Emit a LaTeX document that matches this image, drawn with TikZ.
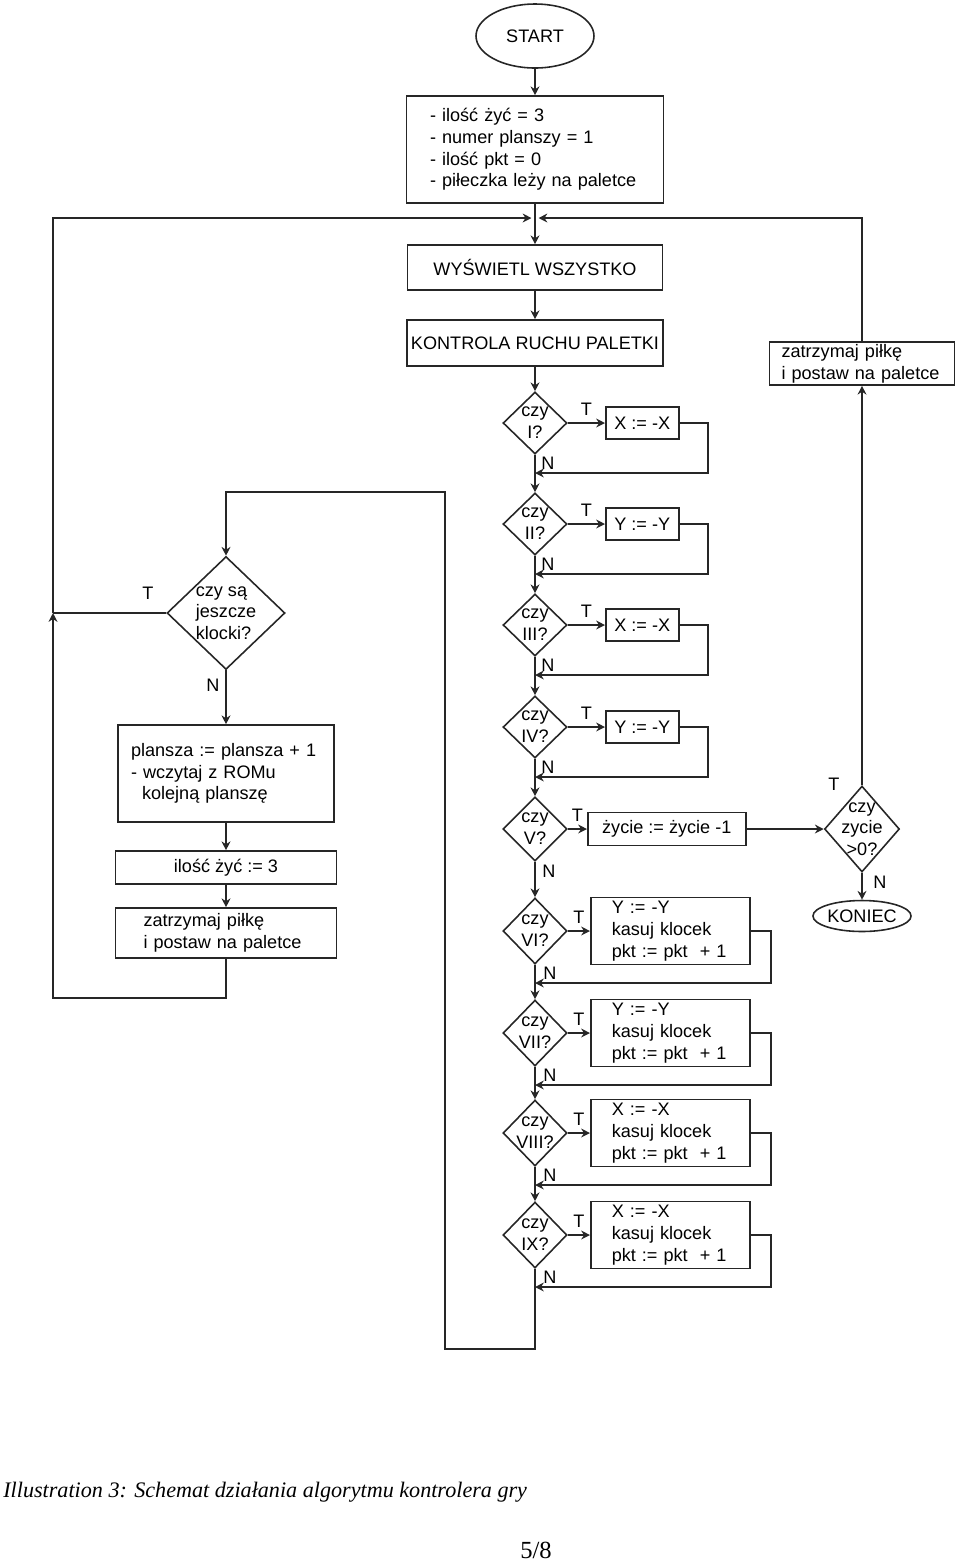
\documentclass[tikz,border=0pt]{standalone}
\usepackage{fontspec}
\setmainfont{Liberation Sans}
\newfontfamily\capfont{Liberation Serif}
\usetikzlibrary{arrows.meta,positioning,shapes.geometric}
\definecolor{lc}{HTML}{262626}
\newcommand{\fs}{\fontsize{10.3}{12.4}\selectfont}
\tikzset{
  box/.style={draw=lc,line width=0.9pt,inner sep=0pt,font=\fs,align=center},
  dia/.style={draw=lc,line width=0.9pt,diamond,inner sep=0pt,minimum width=1.28cm,minimum height=1.28cm},
  oval/.style={draw=lc,line width=0.9pt,ellipse,inner sep=0pt,font=\fs},
  lbl/.style={font=\fs,align=center,inner sep=0pt},
  tn/.style={font=\fs,inner sep=0pt},
  wire/.style={line width=0.9pt,draw=lc},
  ar/.style={-{Stealth[length=5pt,width=5pt]},line width=0.9pt,draw=lc},
}

\begin{document}
\begin{tikzpicture}[x=0.02cm,y=-0.02cm]
  \useasboundingbox (0,0) rectangle (960,1563);
  % main column
  \node[oval,minimum width=2.36cm,minimum height=1.28cm] (start) at (535,36) {START};
  \node[box,minimum width=5.14cm,minimum height=2.14cm,text width=4.2cm,align=left] (init) at (535,149.5) {- ilość żyć = 3\\- numer planszy = 1\\- ilość pkt = 0\\- piłeczka leży na paletce};
  \node[box,minimum width=5.1cm,minimum height=0.9cm] (wys) at (535,267.5) {WYŚWIETL WSZYSTKO};
  \node[box,minimum width=5.12cm,minimum height=0.92cm] (kon) at (535,343) {KONTROLA RUCHU PALETKI};
  \coordinate (mj) at (535,218);
  \draw[ar] (start) -- (init);
  \draw[ar] (init) -- (wys);
  \draw[ar] (wys) -- (kon);

  \foreach \i/\y/\q/\t in {1/423/I/{X := -X},2/524/II/{Y := -Y},3/625/III/{X := -X},4/727/IV/{Y := -Y}} {
    \node[dia,minimum height=1.24cm,label={[lbl]center:{czy\\\q?}}] (d\i) at (535,\y) {};
    \node[box,minimum width=1.46cm,minimum height=0.64cm,anchor=west] (b\i) at (605,\y) {\t};
    \coordinate (r\i) at (708,{\y+50});
    \draw[ar] (d\i) -- node[tn,above=4pt]{T} (b\i);
    \draw[ar] (b\i.east) -| (r\i) -- (r\i -| d\i);
    \node[tn,anchor=north west] (n\i) at ([xshift=0.12cm,yshift=-0.04cm]d\i.south) {N};
  }
  \node[dia,label={[lbl]center:{czy\\V?}}] (d5) at (535,829) {};
  \node[box,minimum width=3.16cm,minimum height=0.66cm,anchor=west] (b5) at (587,829) {życie := życie -1};
  \draw[ar] (d5) -- node[tn,above=4pt]{T} (b5);
  \node[tn,anchor=north west] (n5) at ([xshift=0.14cm,yshift=-0.06cm]d5.south) {N};

  \foreach \i/\y/\q/\t in {6/931/VI/{Y := -Y},7/1033/VII/{Y := -Y},8/1133/VIII/{X := -X},9/1235/IX/{X := -X}} {
    \node[dia,minimum height=1.32cm,label={[lbl]center:{czy\\\q?}}] (d\i) at (535,\y) {};
    \node[box,minimum width=3.18cm,minimum height=1.34cm,text width=2.34cm,align=left,anchor=west] (b\i) at (590,\y) {\t\\kasuj klocek\\pkt := pkt\ \ + 1};
    \coordinate (r\i) at (771,{\y+52});
    \draw[ar] (d\i) -- node[tn,above=4pt]{T} (b\i);
    \draw[ar] (b\i.east) -| (r\i) -- (r\i -| d\i);
    \node[tn,anchor=north west] (n\i) at ([xshift=0.16cm,yshift=-0.04cm]d\i.south) {N};
  }
  \draw[ar] (kon) -- (d1);
  \draw[ar] (d1) -- (d2);
  \draw[ar] (d2) -- (d3);
  \draw[ar] (d3) -- (d4);
  \draw[ar] (d4) -- (d5);
  \draw[ar] (d5) -- (d6);
  \draw[ar] (d6) -- (d7);
  \draw[ar] (d7) -- (d8);
  \draw[ar] (d8) -- (d9);

  % right branch
  \node[dia,minimum width=1.5cm,minimum height=1.72cm,label={[lbl]center:{czy\\zycie\\>0?}}] (zyc) at (862,829) {};
  \node[oval,minimum width=1.64cm,minimum height=0.62cm] (koniec) at (862,916) {KONIEC};
  \node[box,minimum width=3.7cm,minimum height=0.86cm,text width=3.22cm,align=left] (zat2) at (862,363.5) {zatrzymaj piłkę\\i postaw na paletce};
  \node[tn] (tz) at (834,784) {T};
  \node[tn] (nz) at (880,882) {N};
  \draw[ar] (b5) -- (zyc);
  \draw[ar] (zyc) -- (koniec);
  \draw[ar] (zyc) -- (zat2);
  \draw[ar,shorten >=2pt] (zat2.north) |- (mj);

  % left branch
  \node[dia,minimum width=2.36cm,minimum height=2.26cm,label={[lbl,align=left]center:{czy są\\jeszcze\\klocki?}}] (kl) at (226,613) {};
  \node[box,minimum width=4.32cm,minimum height=1.94cm,text width=3.8cm,align=left] (pl) at (226,773.5) {plansza := plansza + 1\\- wczytaj z ROMu\\\hspace*{0.22cm}kolejną planszę};
  \node[box,minimum width=4.42cm,minimum height=0.66cm] (il) at (226,867.5) {ilość żyć := 3};
  \node[box,minimum width=4.42cm,minimum height=1.0cm,text width=3.3cm,align=left] (zat1) at (226,933) {zatrzymaj piłkę\\i postaw na paletce};
  \node[tn] (tk) at (148,593) {T};
  \node[tn] (nk) at (213,685) {N};
  \coordinate (lj) at (53,613);
  \coordinate (lb) at (226,998);
  \coordinate (tb) at (535,1349);
  \coordinate (tu) at (445,492);
  \draw[ar] (kl) -- (pl);
  \draw[ar] (pl) -- (il);
  \draw[ar] (il) -- (zat1);
  \draw[ar] (zat1.south) -- (lb) -| (lj);
  \draw[wire] (kl.west) -- (lj);
  \draw[ar,shorten >=2pt] (lj) |- (mj);
  \draw[ar] (d9.south) -- (tb) -| (tu) -| (kl.north);

  % caption
  \node[anchor=base west,inner sep=0pt,font={\capfont\itshape\fontsize{12.6}{15}\selectfont}] (cap) at (3,1497) {Illustration 3: Schemat działania algorytmu kontrolera gry};
  \node[anchor=base west,inner sep=0pt,font={\capfont\fontsize{14}{16}\selectfont}] (pg) at (520,1558) {5/8};
\end{tikzpicture}
\end{document}
